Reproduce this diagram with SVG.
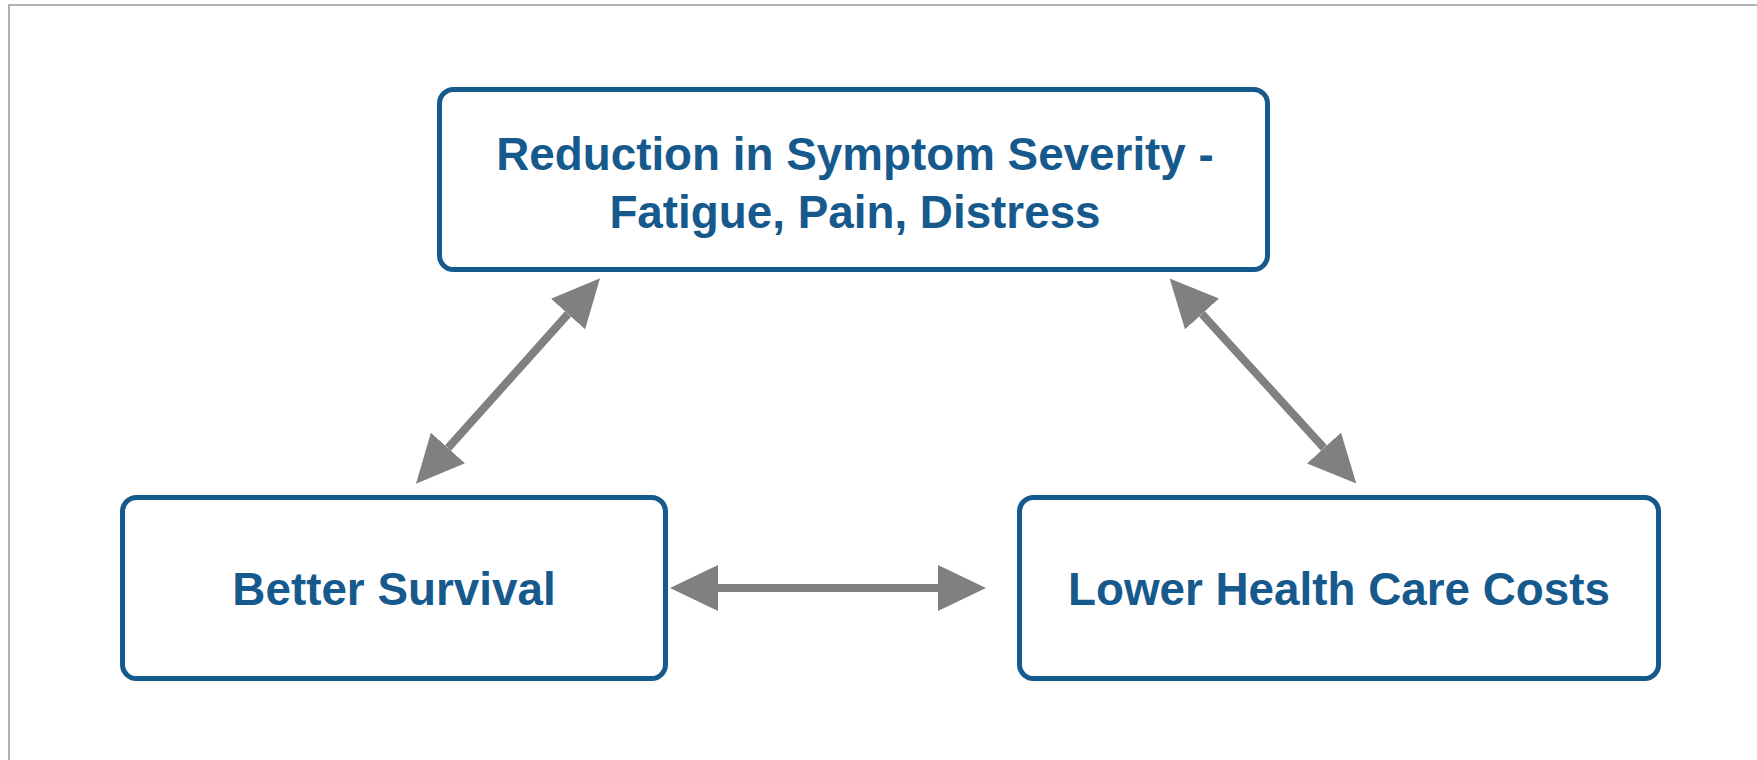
<svg xmlns="http://www.w3.org/2000/svg" width="1757" height="760" viewBox="0 0 1757 760">
  <style>
    .box { fill: #ffffff; stroke: #16598d; stroke-width: 5; }
    .label { font-family: "Liberation Sans", Arial, sans-serif; font-weight: bold; font-size: 45.8px; fill: #16598d; text-anchor: middle; }
    .conn { stroke: #808080; stroke-width: 8; fill: none; marker-start: url(#head); marker-end: url(#head); }
  </style>
  <defs>
    <marker id="head" markerUnits="userSpaceOnUse" markerWidth="48" markerHeight="46" viewBox="0 0 46 44" refX="0" refY="22" orient="auto-start-reverse">
      <path d="M0,0 L46,22 L0,44 Z" fill="#808080"/>
    </marker>
  </defs>

  <!-- page frame -->
  <rect x="9" y="5" width="1760" height="770" fill="#ffffff" stroke="#999999" stroke-width="1.5"/>

  <g id="connectors">
    <line class="conn" x1="568" y1="314" x2="448" y2="448"/>
    <line class="conn" x1="1202" y1="314" x2="1324" y2="448"/>
    <line class="conn" x1="718" y1="588" x2="938" y2="588"/>
  </g>

  <g id="symptom-severity">
    <rect class="box" x="439.5" y="89.5" width="828" height="180" rx="14"/>
    <text class="label" x="855" y="170">Reduction in Symptom Severity -</text>
    <text class="label" x="855" y="228">Fatigue, Pain, Distress</text>
  </g>

  <g id="better-survival">
    <rect class="box" x="122.5" y="497.5" width="543" height="181" rx="14"/>
    <text class="label" x="394" y="605">Better Survival</text>
  </g>

  <g id="lower-costs">
    <rect class="box" x="1019.5" y="497.5" width="639" height="181" rx="14"/>
    <text class="label" x="1339" y="605">Lower Health Care Costs</text>
  </g>
</svg>
